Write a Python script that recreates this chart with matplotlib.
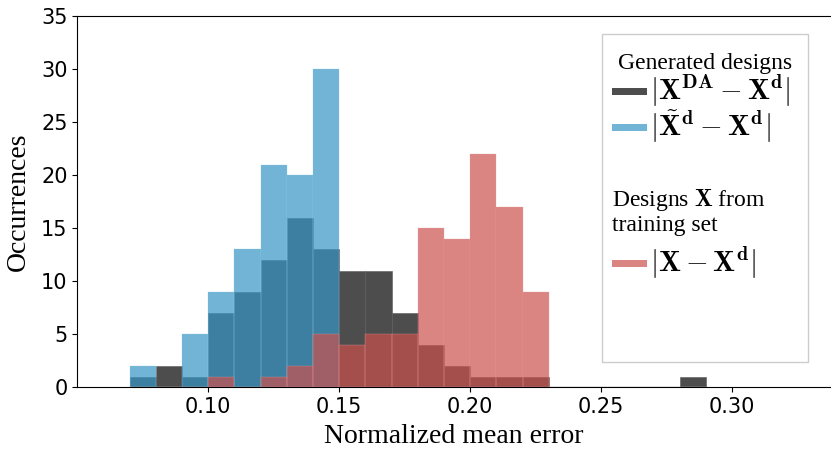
import numpy as np
import matplotlib
matplotlib.use("Agg")
import matplotlib.pyplot as plt
from matplotlib.patches import Rectangle

plt.rcParams["mathtext.fontset"] = "cm"

# ---- data: counts per 0.01-wide bin, left edges 0.07 .. 0.28 ----------------
bin_edges = np.round(np.linspace(0.07, 0.29, 23), 2)
count_da = [1, 2, 1, 7, 9, 12, 16, 13, 11, 11, 7, 4, 2, 1, 1, 1, 0, 0, 0, 0, 0, 1]
count_tilde = [2, 0, 5, 9, 13, 21, 20, 30, 0, 0, 0, 0, 0, 0, 0, 0, 0, 0, 0, 0, 0, 0]
count_train = [0, 0, 0, 1, 0, 1, 2, 5, 4, 5, 5, 15, 14, 22, 17, 9, 0, 0, 0, 0, 0, 0]
xticks = [0.10, 0.15, 0.20, 0.25, 0.30]
yticks = [0, 5, 10, 15, 20, 25, 30, 35]

# ---- style ------------------------------------------------------------------
C_DA = "#4d4d4d"
C_TILDE = "#3695c4"
C_TRAIN = "#cc514e"
ALPHA = 0.7
SERIF = "Liberation Serif"
W, H = 831, 453

fig = plt.figure(figsize=(W / 100, H / 100), dpi=100)
ax = fig.add_axes([77.3 / W, 1 - 387.3 / H, 1 - 77.3 / W, (387.3 - 16) / H])

centers = (bin_edges[:-1] + bin_edges[1:]) / 2
ax.hist(centers, bins=bin_edges, weights=count_da, color=C_DA,
        edgecolor="#5a5a5a", linewidth=0.4)
ax.hist(centers, bins=bin_edges, weights=count_tilde, color=C_TILDE,
        alpha=ALPHA, edgecolor="#8cc8e6", linewidth=0.3)
ax.hist(centers, bins=bin_edges, weights=count_train, color=C_TRAIN,
        alpha=ALPHA, edgecolor="#e8a0a0", linewidth=0.3)

ax.set_xlim(0.05, 0.3377)
ax.set_ylim(0, 35)
ax.set_xticks(xticks)
ax.set_xticklabels([f"{t:.2f}" for t in xticks])
ax.set_yticks(yticks)
ax.tick_params(labelsize=15)
ax.spines["right"].set_visible(False)

ax.set_xlabel("Normalized mean error", fontsize=20, family=SERIF, labelpad=5)
ax.set_ylabel("Occurrences", fontsize=20, family=SERIF, labelpad=7)

# ---- legend box (two sections) ----------------------------------------------
def fx(px):
    return px / W

def fy(py):
    return 1 - py / H

fig.patches.append(Rectangle((fx(602), fy(362)), fx(808) - fx(602), (362 - 34) / H,
                             transform=fig.transFigure, facecolor="white",
                             edgecolor="#cccccc", linewidth=1.0, zorder=5))

def entry(py, color, alpha, label):
    fig.patches.append(Rectangle((fx(612), fy(py + 3.5)), 35 / W, 7 / H,
                                 transform=fig.transFigure, facecolor=color,
                                 alpha=alpha, edgecolor="none", zorder=6))
    fig.text(fx(650), fy(py), label, fontsize=21, va="center", ha="left",
             zorder=7)

fig.text(fx(618), fy(64), "Generated designs", fontsize=17, family=SERIF,
         va="center", ha="left", zorder=7)
entry(91, C_DA, 1.0, r"$|\mathbf{X}^{\mathbf{DA}}-\mathbf{X}^{\mathbf{d}}|$")
entry(127, C_TILDE, ALPHA, r"$|\tilde{\mathbf{X}}^{\mathbf{d}}-\mathbf{X}^{\mathbf{d}}|$")
fig.text(fx(612), fy(200), r"Designs $\mathbf{X}$ from", fontsize=17, family=SERIF,
         va="center", ha="left", zorder=7)
fig.text(fx(612), fy(225), "training set", fontsize=17, family=SERIF,
         va="center", ha="left", zorder=7)
entry(263, C_TRAIN, ALPHA, r"$|\mathbf{X}-\mathbf{X}^{\mathbf{d}}|$")

fig.savefig("out.png", dpi=100)
